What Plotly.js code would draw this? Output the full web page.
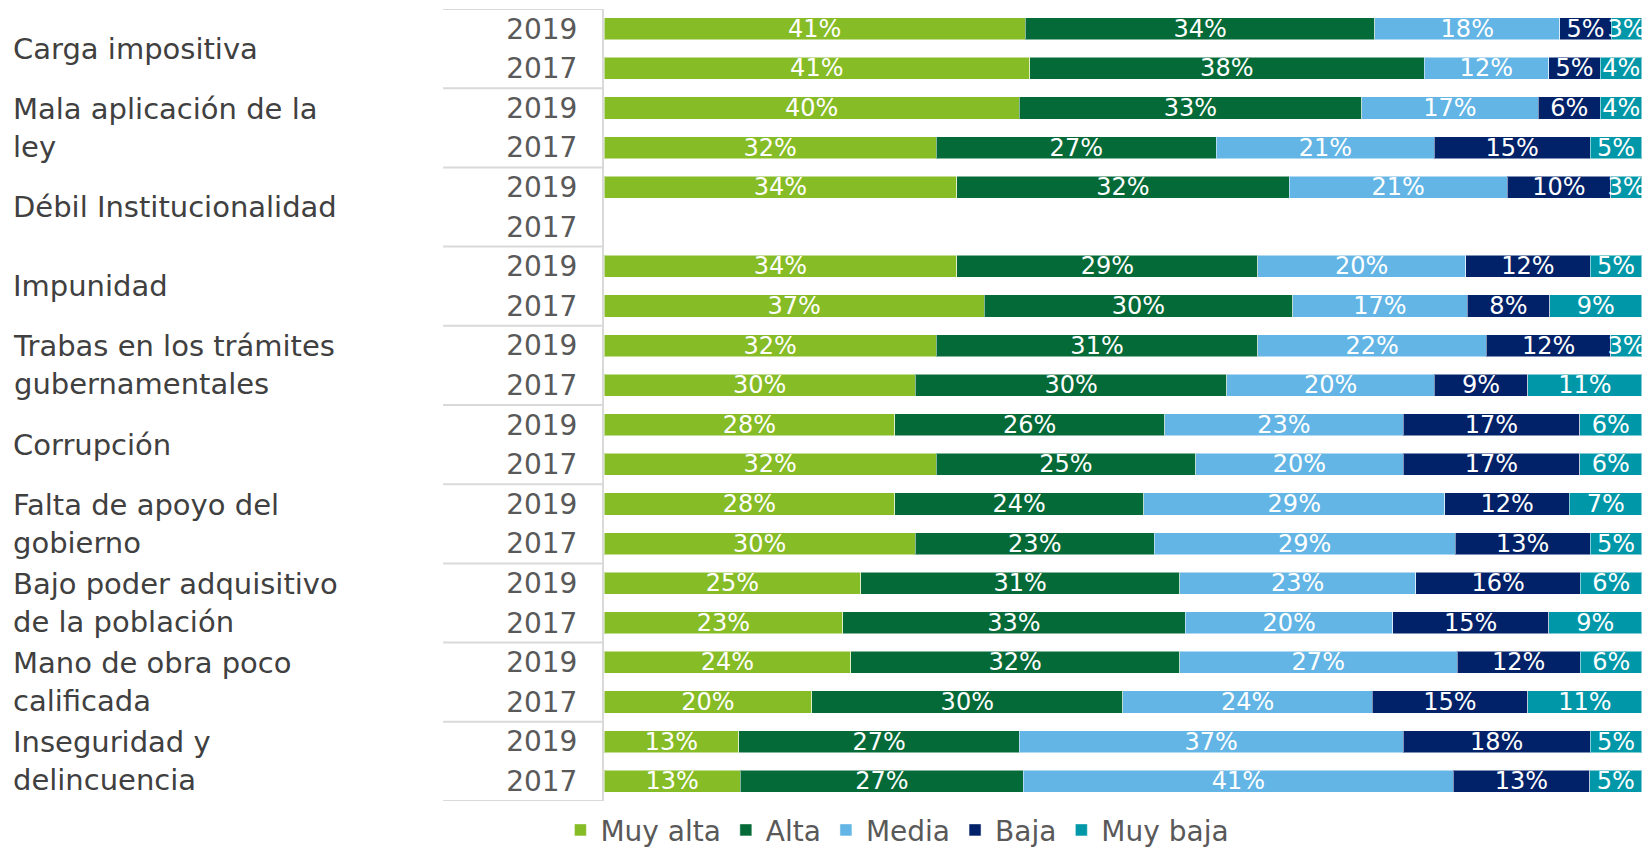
<!DOCTYPE html>
<html><head><meta charset="utf-8">
<script src="https://cdn.plot.ly/plotly-3.0.1.min.js"></script>
<style>body{margin:0;padding:0;background:#fff}#chart{width:1645px;height:848px}</style>
</head><body><div id="chart"></div>
<script>
const groups = ["Carga impositiva","Mala aplicación de la<br>ley","Débil Institucionalidad","Impunidad","Trabas en los trámites<br>gubernamentales","Corrupción","Falta de apoyo del<br>gobierno","Bajo poder adquisitivo<br>de la población","Mano de obra poco<br>calificada","Inseguridad y<br>delincuencia"];
const years = ["2019","2017"];
const seriesNames = ["Muy alta","Alta","Media","Baja","Muy baja"];
const colors = ["#86BC25","#046A38","#62B5E5","#012169","#0097A9"];
// rows: group0-2019, group0-2017, group1-2019, ...
const muyAlta = [41,41, 40,32, 34,null, 34,37, 32,30, 28,32, 28,30, 25,23, 24,20, 13,13];
const alta    = [34,38, 33,27, 32,null, 29,30, 31,30, 26,25, 24,23, 31,33, 32,30, 27,27];
const media   = [18,12, 17,21, 21,null, 20,17, 22,20, 23,20, 29,29, 23,20, 27,24, 37,41];
const baja    = [5,5,   6,15, 10,null, 12,8,  12,9,  17,17, 12,13, 16,15, 12,15, 18,13];
const muyBaja = [3,4,   4,5,  3,null,  5,9,   3,11,  6,6,   7,5,   6,9,   6,11,  5,5];
const allSeries = [muyAlta, alta, media, baja, muyBaja];

const nRows = groups.length * years.length;
const rowIdx = Array.from({length:nRows}, (_, i) => i);
const rowYears = rowIdx.map(i => years[i % years.length]);

const FONT = "DejaVu Sans, Verdana, sans-serif";

const traces = allSeries.map((vals, k) => ({
  type: "bar",
  orientation: "h",
  name: seriesNames[k],
  x: vals,
  y: rowIdx,
  text: vals.map(v => v == null ? "" : v + "%"),
  textposition: "inside",
  insidetextanchor: "middle",
  textangle: 0,
  constraintext: "none",
  textfont: {color: "#ffffff", size: 24, family: FONT},
  marker: {color: colors[k], line: {color: "rgba(255,255,255,0.5)", width: 1}},
  hoverinfo: "skip",
  cliponaxis: false
}));

const annotations = groups.map((g, i) => ({
  xref: "paper", yref: "y",
  x: -0.571, y: i * 2 + 0.5,
  xanchor: "left", yanchor: "middle",
  text: g, showarrow: false, align: "left",
  font: {family: FONT, size: 29, color: "#404040"}
}));

const shapes = [];
for (let i = 0; i <= groups.length; i++) {
  shapes.push({type: "line", xref: "paper", yref: "y", x0: -0.155, x1: 0,
    y0: i * 2 - 0.5, y1: i * 2 - 0.5, line: {color: "#D9D9D9", width: 2}});
}

const layout = {
  width: 1645, height: 848,
  margin: {l: 604, r: 3, t: 9, b: 47, autoexpand: false},
  paper_bgcolor: "#ffffff", plot_bgcolor: "#ffffff",
  barmode: "stack", barnorm: "percent", bargap: 0.44,
  font: {family: FONT, color: "#595959"},
  xaxis: {visible: false, range: [0, 100.001], fixedrange: true},
  yaxis: {
    range: [nRows - 0.5, -0.5], tickmode: "array", tickvals: rowIdx, ticktext: rowYears,
    showgrid: false, zeroline: false, showline: true, linecolor: "#D9D9D9", linewidth: 2,
    ticks: "outside", ticklen: 19, tickcolor: "rgba(0,0,0,0)",
    tickfont: {family: FONT, size: 28, color: "#595959"}
  },
  showlegend: true,
  legend: {orientation: "h", x: -0.042, xanchor: "left",
    yref: "container", y: 0.021, yanchor: "middle",
    font: {family: FONT, size: 28, color: "#595959"}, traceorder: "normal",
    itemwidth: 30, tracegroupgap: 0},
  annotations: annotations,
  shapes: shapes
};

Plotly.newPlot("chart", traces, layout, {displayModeBar: false, staticPlot: true});
</script></body></html>
